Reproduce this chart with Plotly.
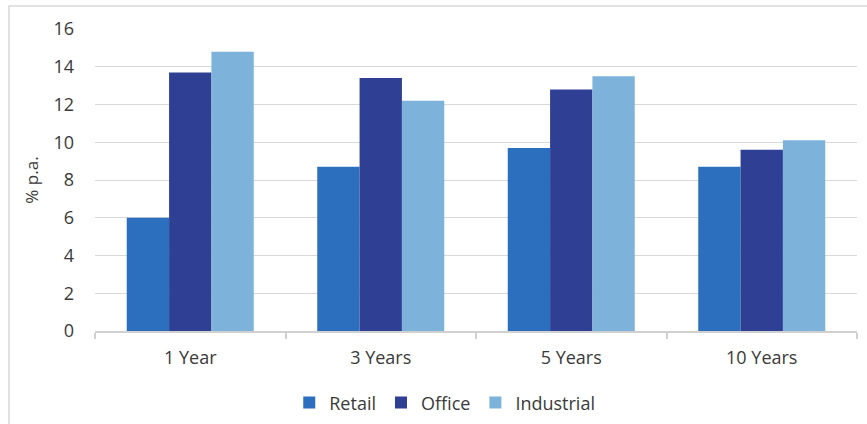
import plotly.graph_objects as go

# Annualised returns by sector and holding period
periods = ["1 Year", "3 Years", "5 Years", "10 Years"]
retail = [6.0, 8.7, 9.7, 8.7]
office = [13.7, 13.4, 12.8, 9.6]
industrial = [14.8, 12.2, 13.5, 10.1]
y_ticks = [0, 2, 4, 6, 8, 10, 12, 14, 16]

series = [
    ("Retail", retail, "#2B6FBE"),
    ("Office", office, "#2E3F94"),
    ("Industrial", industrial, "#7DB3DA"),
]

fig = go.Figure()
for name, vals, color in series:
    fig.add_trace(go.Bar(name=name, x=periods, y=vals, marker=dict(color=color, line=dict(width=0))))

font_family = "Open Sans, sans-serif"
fig.update_layout(
    width=867, height=424,
    margin=dict(l=95, r=10, t=29, b=93, autoexpand=False),
    paper_bgcolor="white", plot_bgcolor="white",
    barmode="group", bargap=1/3, bargroupgap=0,
    font=dict(family=font_family, size=18, color="#3A3A3A"),
    showlegend=True,
    legend=dict(orientation="h", x=0.459, xanchor="center", y=-0.238, yanchor="middle",
                font=dict(size=18, color="#3A3A3A"), itemwidth=30, traceorder="normal"),
    shapes=[dict(type="rect", xref="paper", yref="paper", x0=-0.1129, x1=1.05, y0=-0.4, y1=1.0762,
                 line=dict(color="#D9D9D9", width=1.5), fillcolor="rgba(0,0,0,0)", layer="below")],
)
fig.update_yaxes(range=[0, 16], tickvals=y_ticks, showgrid=True, gridcolor="#D9D9D9", gridwidth=1,
                 zeroline=False, showline=False, ticks="", ticklabelstandoff=20, automargin=False,
                 title=dict(text="% p.a.", standoff=10, font=dict(size=17)))
fig.update_xaxes(showline=True, linecolor="#D0D0D0", linewidth=1.5, ticks="outside", tickson="boundaries",
                 ticklen=6, tickcolor="#D0D0D0", tickwidth=1.5, ticklabelstandoff=10, automargin=False)

fig.write_html("out.html")
